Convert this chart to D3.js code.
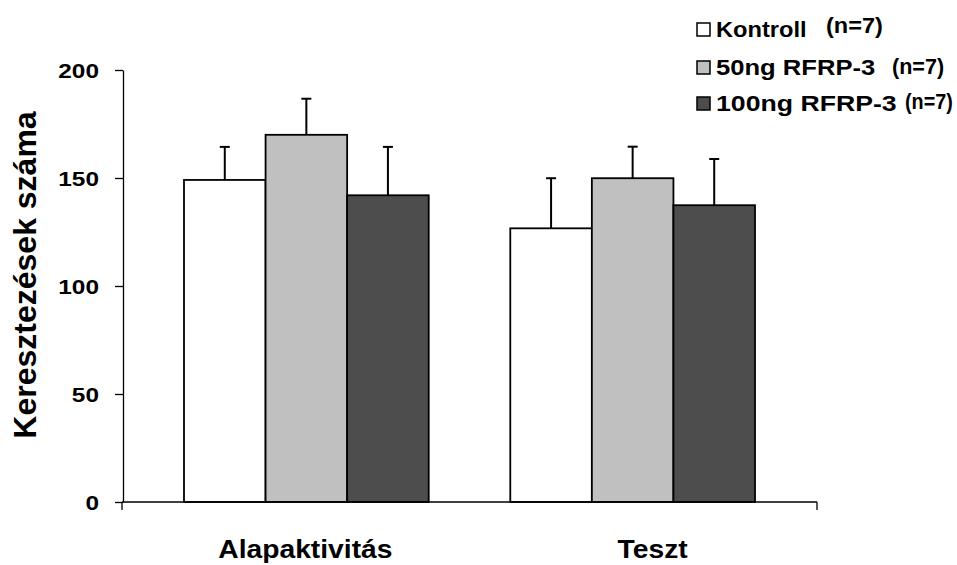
<!DOCTYPE html>
<html><head><meta charset="utf-8">
<script src="https://cdn.jsdelivr.net/npm/d3@7"></script>
<style>body{margin:0;background:#fff}svg{display:block}text{font-family:"Liberation Sans",Arial,sans-serif;font-weight:bold;fill:#000}</style>
</head><body>
<script>
const categories = ["Alapaktivitás", "Teszt"];
const seriesNames = ["Kontroll", "50ng RFRP-3", "100ng RFRP-3"];
const seriesN = ["(n=7)", "(n=7)", "(n=7)"];
const kontroll = [149.1, 126.7];
const rfrp50 = [170.0, 149.9];
const rfrp100 = [142.0, 137.4];
const kontrollErr = [15.3, 23.2];
const rfrp50Err = [16.7, 14.6];
const rfrp100Err = [22.4, 21.4];
const yTicks = [0, 50, 100, 150, 200];
const yLabel = "Keresztezések száma";

const colors = ["#ffffff", "#c0c0c0", "#4d4d4d"];
const values = [kontroll, rfrp50, rfrp100];
const errors = [kontrollErr, rfrp50Err, rfrp100Err];

const W = 957, H = 565;
const svg = d3.select("body").append("svg").attr("width", W).attr("height", H);

const y = d3.scaleLinear().domain([0, 200]).range([502, 70]);
const x0 = d3.scaleBand().domain(categories).range([122, 817]).paddingInner(0.25).paddingOuter(0.19);
const x1 = d3.scaleBand().domain(seriesNames).range([0, x0.bandwidth()]);

// bars
const groups = svg.append("g").selectAll("g").data(categories).join("g")
  .attr("transform", d => `translate(${x0(d)},0)`);
groups.each(function(cat, ci) {
  const g = d3.select(this);
  seriesNames.forEach((s, si) => {
    const v = values[si][ci], e = errors[si][ci];
    const cx = x1(s) + x1.bandwidth() / 2;
    g.append("line").attr("x1", cx).attr("x2", cx).attr("y1", y(v)).attr("y2", y(v + e))
      .attr("stroke", "#000").attr("stroke-width", 2);
    g.append("line").attr("x1", cx - 5).attr("x2", cx + 5).attr("y1", y(v + e)).attr("y2", y(v + e))
      .attr("stroke", "#000").attr("stroke-width", 2);
    g.append("rect").attr("x", x1(s)).attr("width", x1.bandwidth())
      .attr("y", y(v)).attr("height", y(0) - y(v))
      .attr("fill", colors[si]).attr("stroke", "#000").attr("stroke-width", 1.8);
  });
});

// y axis
const yAxis = d3.axisLeft(y).tickValues(yTicks).tickSize(8).tickPadding(0).tickSizeOuter(0);
const ya = svg.append("g").attr("transform", "translate(123,0)").call(yAxis);
ya.select(".domain").attr("stroke", "#000").attr("stroke-width", 1.3);
ya.selectAll(".tick line").attr("stroke", "#000").attr("stroke-width", 1.3);
ya.selectAll(".tick text").attr("font-size", 20).attr("font-family", "Liberation Sans")
  .attr("font-weight", "bold").attr("x", 0).attr("dy", "0.36em")
  .attr("transform", "translate(-24,0) scale(1.22,1)");

// x axis
const xa = svg.append("g");
xa.append("line").attr("x1", 122).attr("x2", 817).attr("y1", y(0)).attr("y2", y(0))
  .attr("stroke", "#000").attr("stroke-width", 1.3);
[122, 817].forEach(px => xa.append("line").attr("x1", px).attr("x2", px)
  .attr("y1", y(0)).attr("y2", y(0) + 8).attr("stroke", "#000").attr("stroke-width", 1.3));
const labelShift = [0, 21];
categories.forEach((c, i) => {
  svg.append("text").attr("text-anchor", "middle").attr("font-size", 25)
    .attr("transform", `translate(${x0(c) + x0.bandwidth() / 2 - 1 + labelShift[i]},558) scale(1.13,1)`)
    .text(c);
});

// y label
svg.append("text").attr("text-anchor", "middle").attr("font-size", 32)
  .attr("transform", "translate(36,275) rotate(-90)").text(yLabel);

// legend
const legRows = [37, 75, 111];
const legScale = [1.1, 1.19, 1.24];
const nPos = [[826, 33], [892, 74], [905, 109]];
const nScale = [1.07, 0.98, 0.9];
seriesNames.forEach((s, i) => {
  svg.append("rect").attr("x", 697).attr("y", legRows[i] - 14).attr("width", 13).attr("height", 13)
    .attr("fill", colors[i]).attr("stroke", "#000").attr("stroke-width", 1.5);
  svg.append("text").attr("font-size", 21.5)
    .attr("transform", `translate(716,${legRows[i]}) scale(${legScale[i]},1)`).text(s);
  svg.append("text").attr("font-size", 22)
    .attr("transform", `translate(${nPos[i][0]},${nPos[i][1]}) scale(${nScale[i]},1)`).text(seriesN[i]);
});
</script>
</body></html>
